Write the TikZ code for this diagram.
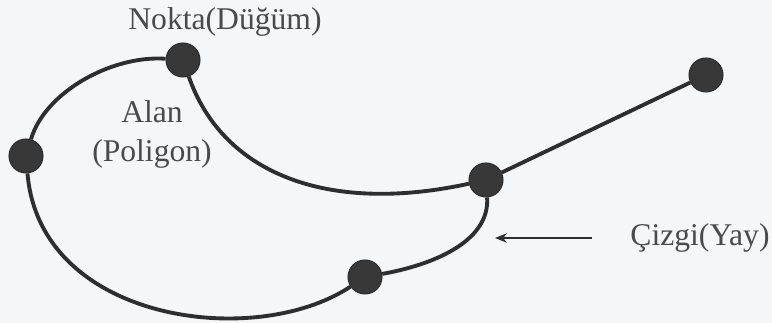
\documentclass[tikz,border=0pt]{standalone}
\usepackage{fontspec}
\setmainfont{Liberation Serif}
\usetikzlibrary{arrows.meta}
\definecolor{murekkep}{HTML}{2E2E2E}
\definecolor{yazi}{HTML}{4A4A4A}
\definecolor{kagit}{HTML}{F5F6F8}
\begin{document}
\begin{tikzpicture}[x=0.02cm,y=-0.02cm,>={Stealth[length=2.4mm,width=1.9mm]},
  dugum/.style={circle,fill=murekkep!95,draw=murekkep,line width=0.6pt,
    minimum size=0.68cm,inner sep=0pt},
  yay/.style={murekkep,line width=2.2pt},
  etiket/.style={text=yazi,font=\fontsize{18}{22}\selectfont,inner sep=0pt}]
 \fill[kagit] (0,0) rectangle (772,323);
 \useasboundingbox (0,0) rectangle (772,323);
 % noktalar
 \node[dugum] (ust) at (183,60) {};
 \node[dugum] (sol) at (26,156) {};
 \node[dugum] (orta) at (486,180) {};
 \node[dugum] (sag) at (706,75) {};
 \node[dugum] (alt) at (365,277) {};
 % yaylar
 \draw[yay] (ust) .. controls (112,55) and (45,92) .. (sol);
 \draw[yay] (ust) .. controls (222,172) and (325,215) .. (orta);
 \draw[yay] (orta) -- (sag);
 \draw[yay] (orta) .. controls (490,242) and (432,265) .. (alt);
 \draw[yay] (sol) .. controls (40,322) and (255,350) .. (alt);
 % yazilar
 \node[etiket] (nokta) at (225,22) {Nokta(Düğüm)};
 \node[etiket] (alan) at (152,112) {Alan};
 \node[etiket] (poligon) at (152,154) {(Poligon)};
 \node[etiket] (cizgi) at (700,238) {Çizgi(Yay)};
 \coordinate (okbas) at (592,238);
 \coordinate (okuc) at (495,238);
 \draw[->,murekkep,line width=0.9pt] (okbas) -- (okuc);
\end{tikzpicture}
\end{document}
